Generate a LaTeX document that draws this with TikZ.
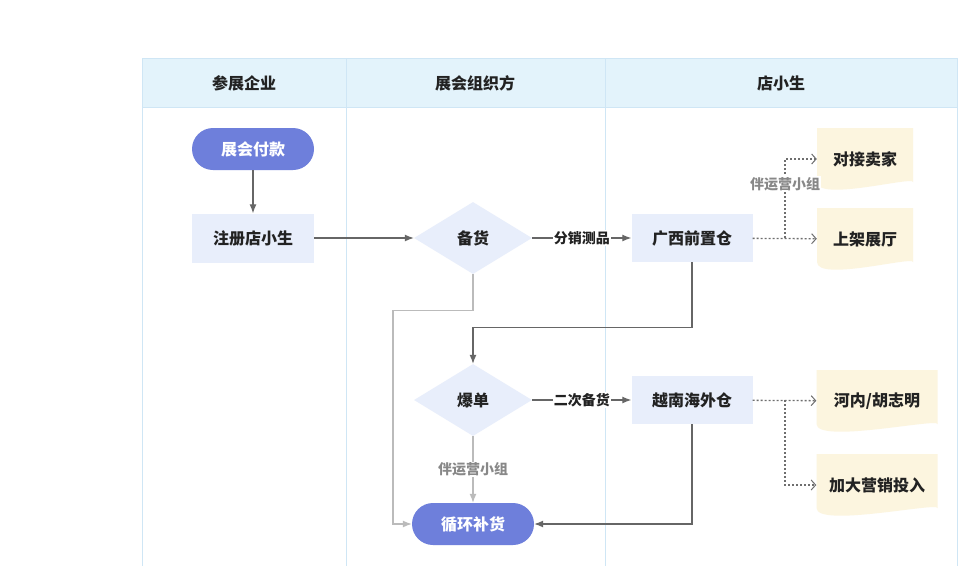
\documentclass[tikz,border=0pt]{standalone}
\usepackage{fontspec}
\setmainfont{Noto Sans CJK SC}
\usepackage{xcolor}
\usetikzlibrary{arrows.meta,shapes.geometric}

\definecolor{hdrfill}{HTML}{E3F3FB}
\definecolor{laneline}{HTML}{CFE6F5}
\definecolor{termfill}{HTML}{6E7FDB}
\definecolor{boxfill}{HTML}{E8EEFB}
\definecolor{docfill}{HTML}{FCF5DF}
\definecolor{darkline}{HTML}{666666}
\definecolor{lightline}{HTML}{BBBBBB}
\definecolor{dotline}{HTML}{6E6E6E}
\definecolor{graytext}{HTML}{888888}
\definecolor{inktext}{HTML}{222222}

\tikzset{
  terminal/.style={rectangle, rounded corners=21pt, fill=termfill, text=white,
    minimum width=122pt, minimum height=42pt, font=\fontsize{16}{19}\selectfont\bfseries},
  stepbox/.style={rectangle, fill=boxfill, text=inktext, minimum width=122pt,
    minimum height=49pt, font=\fontsize{16}{19}\selectfont\bfseries},
  decision/.style={diamond, fill=boxfill, text=inktext, inner sep=0pt,
    minimum width=118pt, minimum height=72pt, font=\fontsize{16}{19}\selectfont\bfseries},
  docbox/.style={rectangle, inner sep=0pt, text=inktext,
    font=\fontsize{16}{19}\selectfont\bfseries,
    path picture={
      \fill[docfill] ([yshift=8pt]path picture bounding box.south west)
        -- (path picture bounding box.north west)
        -- (path picture bounding box.north east)
        -- ([yshift=8pt]path picture bounding box.south east)
        .. controls ([xshift=-0.3\pgfkeysvalueof{/pgf/minimum width},yshift=14pt]path picture bounding box.south east)
        and ([xshift=0.3\pgfkeysvalueof{/pgf/minimum width},yshift=-12pt]path picture bounding box.south west)
        .. ([yshift=8pt]path picture bounding box.south west) -- cycle;
    }},
  lanehead/.style={text=inktext, font=\fontsize{16}{19}\selectfont\bfseries},
  flow/.style={draw=darkline, line width=1.2pt, -{Latex[length=9pt,width=7pt]}},
  softflow/.style={draw=lightline, line width=1.2pt, -{Latex[length=9pt,width=7pt]}},
  dotflow/.style={draw=dotline, line width=1.3pt, dash pattern=on 2pt off 2pt,
    -{Straight Barb[length=4.5pt,width=10pt,line width=1pt]}},
  edgetag/.style={fill=white, inner sep=1pt, text=inktext, font=\fontsize{14}{16}\selectfont\bfseries},
  softtag/.style={fill=white, inner sep=1pt, text=graytext, font=\fontsize{14}{16}\selectfont\bfseries},
}

\begin{document}
\begin{tikzpicture}[x=1pt, y=-1pt]
  \useasboundingbox[fill=white] (0,0) rectangle (971,566);

  % swimlanes
  \fill[hdrfill] (142,58) rectangle (957,107);
  \draw[laneline, line width=1pt] (142,566) -- (142,58) -- (957,58) -- (957,566);
  \draw[laneline, line width=1pt] (142,107) -- (957,107);
  \draw[laneline, line width=1pt] (346,58) -- (346,566);
  \draw[laneline, line width=1pt] (605,58) -- (605,566);
  \node[lanehead] (headA) at (244,83) {参展企业};
  \node[lanehead] (headB) at (475,83) {展会组织方};
  \node[lanehead] (headC) at (781,83) {店小生};

  % nodes
  \node[terminal] (pay) at (253,149) {展会付款};
  \node[stepbox] (reg) at (253,238) {注册店小生};
  \node[decision] (stock) at (473,238) {备货};
  \node[stepbox, minimum width=121pt, minimum height=48pt] (gx) at (692,238) {广西前置仓};
  \node[docbox, minimum width=96pt, minimum height=62pt] (seller) at (865,159) {对接卖家};
  \node[docbox, minimum width=96pt, minimum height=62pt] (shelf) at (865,239) {上架展厅};
  \node[decision] (burst) at (473,400) {爆单};
  \node[stepbox, minimum width=121pt, minimum height=48pt] (vn) at (692,400) {越南海外仓};
  \node[docbox, minimum width=121pt, minimum height=62pt] (hanoi) at (877,401) {河内/胡志明};
  \node[docbox, minimum width=121pt, minimum height=62pt] (promo) at (877,485) {加大营销投入};
  \node[terminal] (loop) at (473,524) {循环补货};

  \coordinate (gxfork) at (785,238);
  \coordinate (vnfork) at (785,400);

  % connectors
  \draw[flow] (pay) -- (reg);
  \draw[flow] (reg) -- (stock);
  \draw[flow] (stock) -- node[edgetag] {分销测品} (gx);
  \draw[flow] (gx.south) -- ++(0,65) -| (burst.north);
  \draw[softflow] (stock.south) -- ++(0,36) -- ++(-80,0) |- (loop.west);
  \draw[softflow] (burst) -- node[softtag] {伴运营小组} (loop);
  \draw[flow] (burst) -- node[edgetag] {二次备货} (vn);
  \draw[flow] (vn.south) |- (loop.east);

  \draw[dotflow] (gx) -- (shelf);
  \draw[dotflow] (gxfork) |- node[softtag, pos=0.34] {伴运营小组} (seller.west);
  \draw[dotflow] (vn) -- (hanoi);
  \draw[dotflow] (vnfork) |- (promo.west);
\end{tikzpicture}
\end{document}
